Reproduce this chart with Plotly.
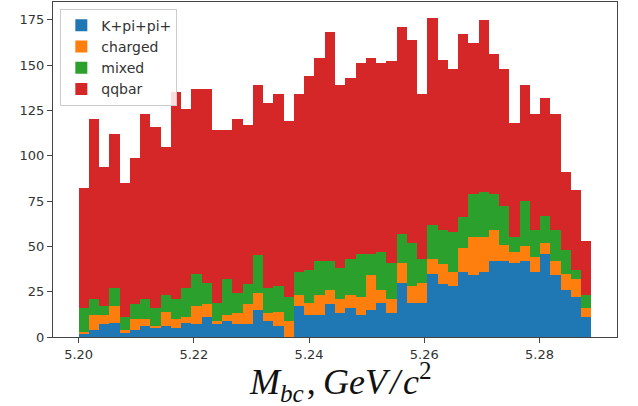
import plotly.graph_objects as go

# Histogram binning: 50 bins from 5.200 to 5.289
x_min = 5.200
x_max = 5.289
n_bins = 50

# Counts per bin for each stacked component
kpipi = [2, 4, 7, 8, 2, 4, 6, 5, 6, 5,
         8, 7, 11, 7, 9, 7, 7, 15, 9, 6,
         0, 17, 12, 12, 18, 13, 16, 12, 15, 19,
         13, 30, 19, 19, 35, 29, 28, 36, 34, 36,
         42, 42, 41, 42, 36, 46, 34, 26, 22, 11]
charged = [1, 8, 5, 9, 2, 6, 4, 1, 8, 5,
           3, 10, 7, 2, 3, 6, 11, 9, 4, 8,
           9, 6, 7, 11, 8, 8, 7, 10, 19, 7,
           8, 11, 9, 11, 8, 11, 8, 13, 21, 19,
           17, 9, 6, 8, 8, 6, 8, 9, 10, 5]
mixed = [13, 9, 5, 10, 7, 8, 11, 10, 9, 11,
         16, 18, 12, 10, 20, 11, 11, 21, 14, 14,
         13, 13, 18, 19, 16, 17, 20, 24, 12, 21,
         20, 16, 24, 13, 19, 19, 22, 17, 24, 25,
         20, 21, 8, 25, 15, 15, 17, 13, 5, 7]
qqbar = [66, 99, 77, 85, 74, 81, 102, 100, 82, 114,
         99, 102, 107, 95, 82, 96, 88, 94, 102, 106,
         97, 98, 107, 112, 126, 101, 100, 105, 108, 104,
         111, 114, 112, 91, 114, 94, 90, 101, 83, 95,
         77, 76, 63, 64, 64, 65, 64, 43, 44, 30]

series_names = ["K+pi+pi+", "charged", "mixed", "qqbar"]
series_values = [kpipi, charged, mixed, qqbar]
series_colors = ["#1f77b4", "#ff7f0e", "#2ca02c", "#d62728"]

x_tick_vals = [5.20, 5.22, 5.24, 5.26, 5.28]
x_tick_text = ["5.20", "5.22", "5.24", "5.26", "5.28"]
y_tick_vals = [0, 25, 50, 75, 100, 125, 150, 175]

bw = (x_max - x_min) / n_bins
centers = [x_min + bw * (i + 0.5) for i in range(n_bins)]

fig = go.Figure()
for name, vals, col in zip(series_names, series_values, series_colors):
    fig.add_trace(go.Bar(
        x=centers, y=vals, width=[bw] * n_bins, name=name, legendgroup=name,
        marker=dict(color=col, line=dict(width=0)),
    ))

totals = [sum(v) for v in zip(*series_values)]
span = x_max - x_min
hs = "\u200a"  # hair space
xlabel = ("<i>M</i><sub><i>bc</i></sub>" + hs + "," + "\u2009"
          + "<i>GeV</i>" + hs + "<i>/</i>" + hs + "<i>c</i><sup>2</sup>")
fig.update_layout(
    width=638, height=406,
    margin=dict(l=53, r=21, t=2, b=69),
    barmode="stack", bargap=0,
    hovermode=False,
    plot_bgcolor="white", paper_bgcolor="white",
    font=dict(family="DejaVu Sans", size=13, color="#333"),
    legend=dict(
        x=0.013, y=0.98, xanchor="left", yanchor="top",
        traceorder="normal", tracegroupgap=3,
        bgcolor="rgba(255,255,255,0.85)", bordercolor="#cccccc", borderwidth=1,
        font=dict(family="DejaVu Sans", size=14, color="#333"),
    ),
    xaxis=dict(
        range=[x_min - 0.05 * span, x_max + 0.05 * span],
        tickvals=x_tick_vals, ticktext=x_tick_text,
        ticks="outside", ticklen=5, tickcolor="#444",
        showline=True, mirror=True, linecolor="#444", linewidth=1,
        showgrid=False, zeroline=False,
        tickfont=dict(size=13, color="#333"),
    ),
    yaxis=dict(
        range=[0, max(totals) * 1.05],
        tickvals=y_tick_vals,
        ticks="outside", ticklen=5, tickcolor="#444",
        showline=True, mirror=True, linecolor="#444", linewidth=1,
        showgrid=False, zeroline=False,
        tickfont=dict(size=13, color="#333"),
    ),
    annotations=[dict(
        text=xlabel,
        xref="paper", yref="paper", x=0.51, y=-0.135,
        xanchor="center", yanchor="middle", showarrow=False,
        font=dict(family="Liberation Serif", size=36, color="#111"),
    )],
)

fig.write_html("out.html", config={"displayModeBar": False},
               post_script="document.body.style.margin='0';")
